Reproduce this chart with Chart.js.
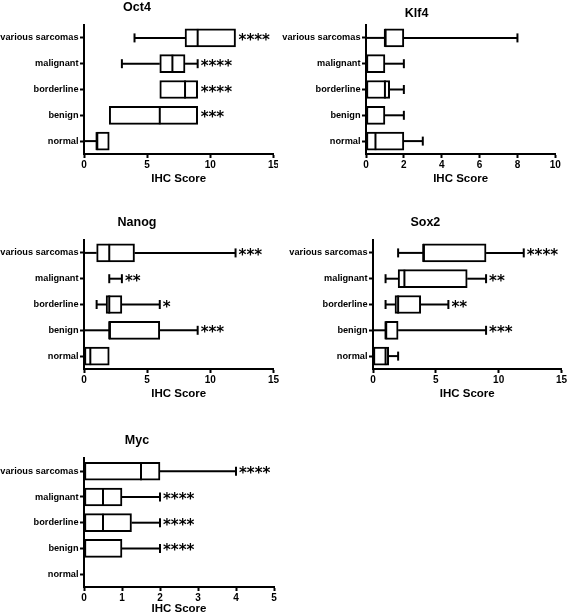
<!DOCTYPE html>
<html>
<head>
<meta charset="utf-8">
<script src="https://cdn.jsdelivr.net/npm/chart.js@4.4.0/dist/chart.umd.min.js"></script>
<style>
  body { margin: 0; background: #fff; }
  #page { position: relative; width: 568px; height: 614px; overflow: hidden; background: #fff; }
  #page canvas { position: absolute; background: #fff; }
</style>
</head>
<body>
<div id="page">
  <canvas id="oct4" width="280" height="192" style="left:0px;top:0px"></canvas>
  <canvas id="klf4" width="284" height="192" style="left:278px;top:0px"></canvas>
  <canvas id="nanog" width="280" height="192" style="left:0px;top:215px"></canvas>
  <canvas id="sox2" width="280" height="192" style="left:288px;top:215px"></canvas>
  <canvas id="myc" width="280" height="192" style="left:0px;top:433px"></canvas>
</div>
<script>
// groups, top to bottom
const groups = ['various sarcomas', 'malignant', 'borderline', 'benign', 'normal'];

// Oct4
const oct4Min = [4, 3, 6, 2, 0];
const oct4Q1 = [8, 6, 6, 2, 1];
const oct4Med = [9, 7, 8, 6, 1];
const oct4Q3 = [12, 8, 9, 9, 2];
const oct4Max = [12, 9, 9, 9, 2];
const oct4Stars = ['****', '****', '****', '***', ''];

// Klf4
const klf4Min = [0, 0, 0, 0, 0];
const klf4Q1 = [1, 0, 0, 0, 0];
const klf4Med = [1, 0, 1, 0, 0.5];
const klf4Q3 = [2, 1, 1.25, 1, 2];
const klf4Max = [8, 2, 2, 2, 3];
const klf4Stars = ['', '', '', '', ''];

// Nanog
const nanogMin = [0, 2, 1, 0, 0];
const nanogQ1 = [1, 2, 1.75, 2, 0];
const nanogMed = [2, 2, 2, 2, 0.5];
const nanogQ3 = [4, 2, 3, 6, 2];
const nanogMax = [12, 3, 6, 9, 2];
const nanogStars = ['***', '**', '*', '***', ''];

// Sox2
const sox2Min = [2, 1, 1, 0, 0];
const sox2Q1 = [4, 2, 1.75, 1, 0];
const sox2Med = [4, 2.5, 2, 1, 1];
const sox2Q3 = [9, 7.5, 3.8, 2, 1.25];
const sox2Max = [12, 9, 6, 9, 2];
const sox2Stars = ['****', '**', '**', '***', ''];

// Myc
const mycMin = [0, 0, 0, 0, 0];
const mycQ1 = [0, 0, 0, 0, 0];
const mycMed = [1.5, 0.5, 0.5, 0, 0];
const mycQ3 = [2, 1, 1.25, 1, 0];
const mycMax = [4, 2, 2, 2, 0];
const mycStars = ['****', '****', '****', '****', ''];

const FONT = '"Liberation Sans", Arial, sans-serif';
Chart.defaults.font.family = FONT;
Chart.defaults.color = '#000';

// whiskers, caps, medians and significance stars on top of the floating bars
const boxWhiskers = {
    id: 'boxWhiskers',
    afterDatasetsDraw(chart) {
        const ctx = chart.ctx;
        const xs = chart.scales.x;
        const ds = chart.data.datasets[0];
        const s = ds.stats;
        const cap = 9;
        const px = v => xs.getPixelForValue(v);
        const line = (x1, y1, x2, y2) => {
            ctx.beginPath();
            ctx.moveTo(x1, y1);
            ctx.lineTo(x2, y2);
            ctx.stroke();
        };
        ctx.save();
        ctx.strokeStyle = '#000';
        ctx.lineWidth = 2;
        chart.getDatasetMeta(0).data.forEach((bar, i) => {
            const y = bar.y;
            const h = bar.height;
            const lo = ds.data[i][0];
            const hi = ds.data[i][1];
            if (s.min[i] < lo) line(px(s.min[i]), y, px(lo), y);
            if (s.min[i] < lo || lo === hi) line(px(s.min[i]), y - cap / 2, px(s.min[i]), y + cap / 2);
            if (s.max[i] > hi) {
                line(px(hi), y, px(s.max[i]), y);
                line(px(s.max[i]), y - cap / 2, px(s.max[i]), y + cap / 2);
            }
            if (lo !== hi) line(px(s.med[i]), y - h / 2, px(s.med[i]), y + h / 2);
            if (s.stars[i]) {
                const size = 15;
                ctx.font = 'bold ' + size + 'px "DejaVu Sans", sans-serif';
                ctx.fillStyle = '#000';
                ctx.textAlign = 'left';
                ctx.textBaseline = 'alphabetic';
                const xEnd = Math.max(px(s.max[i]), px(hi)) + 3;
                ctx.fillText(s.stars[i], xEnd, y + size * 0.47);
            }
        });
        ctx.restore();
    }
};

function boxPanel(id, o) {
    return new Chart(document.getElementById(id), {
        type: 'bar',
        data: {
            labels: groups,
            datasets: [{
                data: o.q1.map((v, i) => [v, o.q3[i]]),
                backgroundColor: '#fff',
                borderColor: '#000',
                borderWidth: 2,
                borderSkipped: false,
                barThickness: 18,
                stats: { min: o.min, med: o.med, max: o.max, stars: o.stars }
            }]
        },
        options: {
            indexAxis: 'y',
            responsive: false,
            animation: false,
            layout: { padding: { left: 0, right: o.padRight, top: 0, bottom: 0 } },
            plugins: {
                legend: { display: false },
                tooltip: { enabled: false },
                title: {
                    display: true,
                    text: o.title,
                    color: '#000',
                    font: { size: 12.5, weight: 'bold' },
                    padding: { top: o.titleTop, bottom: o.titleBottom }
                }
            },
            scales: {
                x: {
                    type: 'linear',
                    min: 0,
                    max: o.xMax,
                    ticks: { stepSize: o.xStep, color: '#000', font: { size: 10, weight: 'bold' }, padding: 1, maxRotation: 0 },
                    grid: { drawOnChartArea: false, drawTicks: true, tickLength: 4, tickWidth: 2, tickColor: '#000' },
                    border: { display: true, color: '#000', width: 2 },
                    title: {
                        display: true,
                        text: 'IHC Score',
                        color: '#000',
                        font: { size: 11.5, weight: 'bold' },
                        padding: { top: 0, bottom: o.xTitleBottom }
                    },
                    afterFit(scale) { scale.height = 38; }
                },
                y: {
                    grid: { drawOnChartArea: false, drawTicks: true, tickLength: 4, tickWidth: 2, tickColor: '#000', offset: false },
                    border: { display: true, color: '#000', width: 2 },
                    ticks: { color: '#000', font: { size: 9.2, weight: 'bold' }, padding: 1.5 },
                    afterFit(scale) { scale.width = o.axisWidth; }
                }
            }
        },
        plugins: [boxWhiskers]
    });
}

boxPanel('oct4', {
    title: 'Oct4', min: oct4Min, q1: oct4Q1, med: oct4Med, q3: oct4Q3, max: oct4Max, stars: oct4Stars,
    xMax: 15, xStep: 5, axisWidth: 84, padRight: 6, titleTop: 0, titleBottom: 10, xTitleBottom: 6
});
boxPanel('klf4', {
    title: 'Klf4', min: klf4Min, q1: klf4Q1, med: klf4Med, q3: klf4Q3, max: klf4Max, stars: klf4Stars,
    xMax: 10, xStep: 2, axisWidth: 88, padRight: 6.7, titleTop: 6, titleBottom: 4, xTitleBottom: 6
});
boxPanel('nanog', {
    title: 'Nanog', min: nanogMin, q1: nanogQ1, med: nanogMed, q3: nanogQ3, max: nanogMax, stars: nanogStars,
    xMax: 15, xStep: 5, axisWidth: 84, padRight: 6, titleTop: 0, titleBottom: 10, xTitleBottom: 6
});
boxPanel('sox2', {
    title: 'Sox2', min: sox2Min, q1: sox2Q1, med: sox2Med, q3: sox2Q3, max: sox2Max, stars: sox2Stars,
    xMax: 15, xStep: 5, axisWidth: 85, padRight: 5.3, titleTop: 0, titleBottom: 10, xTitleBottom: 6
});
boxPanel('myc', {
    title: 'Myc', min: mycMin, q1: mycQ1, med: mycMed, q3: mycQ3, max: mycMax, stars: mycStars,
    xMax: 5, xStep: 1, axisWidth: 84, padRight: 6, titleTop: 0, titleBottom: 10.4, xTitleBottom: 9
});
</script>
</body>
</html>
